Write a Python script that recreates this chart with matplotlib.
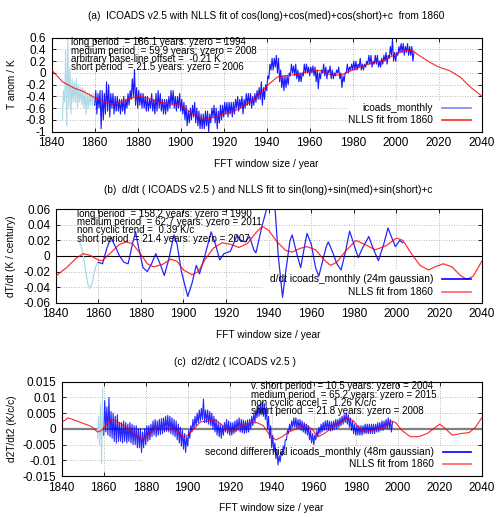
import numpy as np
import matplotlib
matplotlib.use('Agg')
import matplotlib.pyplot as plt
from matplotlib.patches import Rectangle

plt.rcParams['font.family'] = ['Liberation Sans', 'DejaVu Sans']
FS = 7.3
NFS = 7.0
TFS = 8.5

# ---------------- (a) monthly anomaly, yearly low / high envelope ----------------
a_light_years = np.arange(1845, 1860)
a_light_lo = [-0.8, -0.5, -0.9, -0.6, -0.7, -0.5, -0.5, -0.6, -0.5, -0.55, -0.6, -0.7, -0.6, -0.55, -0.55]
a_light_hi = [-0.3, 0.38, 0.58, 0.1, -0.1, -0.15, -0.1, -0.2, -0.25, -0.25, -0.3, -0.35, -0.35, -0.35, -0.35]

a_years = np.arange(1860, 2009)
a_lo = [-0.55, -0.7, -0.6, -0.95, -0.8, -0.7, -0.65, -0.75, -0.6, -0.7,
        -0.65, -0.65, -0.7, -0.65, -0.7, -0.6, -0.55, -0.45, -0.4, -0.55,
        -0.6, -0.55, -0.6, -0.6, -0.65, -0.65, -0.6, -0.65, -0.7, -0.65,
        -0.6, -0.65, -0.7, -0.7, -0.65, -0.6, -0.55, -0.6, -0.65, -0.6,
        -0.65, -0.7, -0.8, -0.9, -0.85, -0.8, -0.75, -0.85, -0.9, -0.95,
        -0.95, -0.95, -0.9, -1.0, -0.85, -0.75, -0.85, -0.95, -0.85, -0.8,
        -0.75, -0.7, -0.75, -0.7, -0.75, -0.7, -0.6, -0.65, -0.6, -0.7,
        -0.6, -0.55, -0.55, -0.6, -0.55, -0.5, -0.45, -0.45, -0.55, -0.45,
        -0.3, -0.1, 0.05, 0.05, 0.1, 0.0, -0.15, -0.25, -0.3, -0.25,
        -0.2, -0.05, 0.0, -0.05, -0.1, -0.15, -0.15, -0.05, 0.0, 0.0,
        -0.05, 0.0, -0.05, -0.15, -0.27, -0.1, 0.0, -0.05, -0.1, 0.0,
        -0.1, -0.1, -0.05, 0.0, -0.1, -0.25, -0.15, 0.0, 0.0, 0.05,
        0.05, 0.05, 0.05, 0.1, 0.05, 0.05, 0.1, 0.15, 0.15, 0.1,
        0.15, 0.15, 0.1, 0.1, 0.15, 0.2, 0.15, 0.25, 0.3, 0.2,
        0.2, 0.3, 0.35, 0.35, 0.3, 0.35, 0.3, 0.3, 0.2]
a_hi = [-0.3, -0.35, -0.3, -0.3, -0.35, -0.15, -0.2, -0.35, -0.35, -0.4,
        -0.4, -0.45, -0.45, -0.4, -0.45, -0.35, -0.3, -0.1, 0.06, -0.25,
        -0.3, -0.35, -0.35, -0.4, -0.4, -0.45, -0.35, -0.45, -0.35, -0.3,
        -0.35, -0.45, -0.45, -0.45, -0.4, -0.3, -0.3, -0.4, -0.4, -0.35,
        -0.45, -0.5, -0.55, -0.65, -0.6, -0.55, -0.5, -0.6, -0.65, -0.7,
        -0.7, -0.65, -0.65, -0.7, -0.6, -0.55, -0.6, -0.65, -0.55, -0.55,
        -0.5, -0.5, -0.5, -0.5, -0.5, -0.45, -0.4, -0.45, -0.4, -0.45,
        -0.35, -0.35, -0.35, -0.4, -0.35, -0.3, -0.25, -0.15, -0.25, -0.2,
        -0.05, 0.15, 0.25, 0.25, 0.3, 0.25, 0.05, -0.05, -0.05, -0.05,
        0.0, 0.15, 0.12, 0.15, 0.05, 0.0, 0.0, 0.15, 0.15, 0.1,
        0.1, 0.12, 0.1, 0.05, 0.0, 0.05, 0.15, 0.1, 0.05, 0.12,
        0.05, 0.0, 0.05, 0.1, 0.0, -0.05, 0.0, 0.15, 0.1, 0.15,
        0.2, 0.2, 0.15, 0.25, 0.15, 0.15, 0.2, 0.3, 0.3, 0.2,
        0.3, 0.3, 0.2, 0.25, 0.3, 0.35, 0.3, 0.45, 0.58, 0.35,
        0.35, 0.45, 0.5, 0.5, 0.45, 0.5, 0.45, 0.45, 0.35]

a_fit_years = [1840, 1845, 1850, 1855, 1860, 1865, 1868, 1870, 1875, 1880, 1885, 1890, 1895, 1900,
               1905, 1910, 1912, 1915, 1920, 1925, 1930, 1935, 1940, 1945, 1950, 1955, 1960, 1965,
               1970, 1975, 1980, 1985, 1990, 1995, 2000, 2005, 2008, 2010, 2015, 2020, 2025, 2030,
               2035, 2040]
a_fit = [0.05, -0.15, -0.25, -0.32, -0.42, -0.5, -0.53, -0.52, -0.45, -0.4, -0.43, -0.5, -0.52, -0.55,
         -0.68, -0.78, -0.79, -0.76, -0.7, -0.65, -0.55, -0.42, -0.22, -0.07, -0.04, -0.02, 0.03, 0.04,
         -0.04, -0.03, 0.05, 0.12, 0.18, 0.22, 0.32, 0.39, 0.38, 0.32, 0.2, 0.1, 0.04, -0.07,
         -0.25, -0.39]

a_ticks = [-1, -0.8, -0.6, -0.4, -0.2, 0, 0.2, 0.4, 0.6]
a_ticklabels = ['-1', '-0.8', '-0.6', '-0.4', '-0.2', '0', '0.2', '0.4', '0.6']

a_notes = ['long period  = 186.1 years: yzero = 1994',
           'medium period  = 59.9 years: yzero = 2008',
           'arbitrary base-line offset =  -0.21 K',
           'short period  = 21.5 years: yzero = 2006']

# ---------------- (b) first derivative ----------------
b_light_years = [1851, 1852, 1853, 1854, 1855, 1856, 1857, 1858, 1859, 1860]
b_light = [0.02, 0.012, 0.0, -0.018, -0.035, -0.042, -0.036, -0.022, -0.012, -0.008]

b_years = [1860, 1862, 1864, 1866, 1868, 1870, 1872, 1874, 1876, 1877.5, 1879, 1881, 1883, 1885,
           1887, 1889, 1891, 1893, 1895.5, 1897, 1899, 1902, 1904, 1906, 1907.5, 1910, 1913, 1915,
           1917, 1919, 1922, 1925, 1927, 1929, 1931, 1933, 1934, 1937, 1940, 1942, 1943, 1944.5,
           1946.5, 1948, 1950, 1951, 1953, 1955, 1957, 1958, 1960, 1962, 1963.5, 1965, 1967, 1968,
           1970, 1972, 1974, 1976, 1978, 1980, 1982, 1984, 1987, 1989, 1991.5, 1994, 1996, 1998,
           1999.5, 2001.5, 2003]
b_vals = [-0.008, -0.01, 0.01, 0.024, 0.012, 0.0, -0.008, -0.01, 0.015, 0.031, 0.01, -0.015, -0.02, -0.01,
          0.003, -0.01, -0.025, -0.005, 0.027, 0.015, -0.02, -0.052, -0.035, -0.012, -0.023, 0.0, 0.031, 0.015,
          -0.005, 0.003, 0.006, 0.026, 0.02, 0.018, 0.025, 0.008, 0.004, 0.04, 0.07, 0.08, 0.06, 0.0,
          -0.053, -0.02, 0.02, 0.027, 0.005, -0.015, 0.015, 0.029, 0.015, -0.015, -0.026, -0.01, 0.012, 0.018,
          0.005, -0.01, -0.018, 0.005, 0.032, 0.015, -0.002, 0.01, 0.025, 0.01, -0.006, 0.015, 0.036, 0.022,
          0.012, 0.02, 0.017]

b_fit_years = [1840, 1845, 1850, 1853, 1856, 1860, 1862, 1865, 1870, 1873, 1876, 1880, 1883, 1886,
               1890, 1894, 1897, 1900, 1904, 1907, 1910, 1914, 1918, 1922, 1926, 1930, 1934, 1937,
               1940, 1944, 1948, 1951, 1955, 1958, 1962, 1966, 1969, 1972, 1976, 1981, 1985, 1990,
               1995, 2000, 2003, 2007, 2011, 2015, 2018, 2022, 2026, 2030, 2033, 2036, 2040]
b_fit = [-0.026, -0.015, -0.002, 0.003, 0.001, -0.005, -0.006, 0.002, 0.015, 0.018, 0.016, 0.002, -0.01, -0.014,
         -0.011, -0.004, -0.007, -0.018, -0.024, -0.02, -0.005, 0.01, 0.017, 0.015, 0.011, 0.016, 0.03, 0.038,
         0.033, 0.018, 0.007, 0.005, 0.01, 0.012, 0.008, -0.005, -0.012, -0.008, 0.006, 0.02, 0.015, 0.008,
         0.013, 0.023, 0.02, 0.003, -0.012, -0.018, -0.014, -0.01, -0.014, -0.025, -0.03, -0.026, -0.007]

b_ticks = [-0.06, -0.04, -0.02, 0, 0.02, 0.04, 0.06]
b_ticklabels = ['-0.06', '-0.04', '-0.02', '0', '0.02', '0.04', '0.06']

b_notes = ['long period  = 158.2 years: yzero = 1990',
           'medium period  = 62.7 years: yzero = 2011',
           'non cyclic trend =  0.39 K/c',
           'short period  = 21.4 years: yzero = 2007']

# ---------------- (c) second derivative, yearly low / high envelope ----------------
c_light_years = [1857, 1858, 1859]
c_light_lo = [-0.003, -0.005, -0.011]
c_light_hi = [0.004, 0.008, 0.013]

c_years = np.arange(1860, 1998)
c_hi = [0.009, 0.007, 0.01, 0.0055, 0.005, 0.004, 0.0045, 0.002, 0.002, 0.0025,
        0.002, 0.0015, 0.002, 0.0015, 0.001, 0.001, 0.0, 0.0, -0.001, 0.0,
        0.001, 0.001, 0.0015, 0.0025, 0.003, 0.0025, 0.003, 0.0033, 0.0035, 0.004,
        0.0043, 0.004, 0.0035, 0.003, 0.0025, 0.0015, 0.0005, -0.0005, -0.0015, -0.0025,
        -0.0005, 0.001, 0.003, 0.004, 0.005, 0.006, 0.0065, 0.0095, 0.006, 0.006,
        0.0055, 0.005, 0.004, 0.003, 0.002, 0.0015, 0.001, 0.002, 0.003, 0.0025,
        0.002, 0.002, 0.0025, 0.003, 0.0035, 0.003, 0.0028, 0.0025, 0.0028, 0.003,
        0.004, 0.005, 0.006, 0.0075, 0.008, 0.0085, 0.008, 0.007, 0.004, 0.001,
        -0.002, -0.0045, -0.0065, -0.0085, -0.0075, -0.0055, -0.0035, -0.0005, 0.0015, 0.0025,
        0.0035, 0.0035, 0.003, 0.003, 0.0025, 0.002, 0.0015, 0.001, -0.0005, -0.0015,
        -0.002, -0.0005, 0.0005, 0.0015, 0.002, 0.0025, 0.0027, 0.0025, 0.0023, 0.0025,
        0.003, 0.003, 0.0035, 0.004, 0.0045, 0.005, 0.0045, 0.0035, 0.0025, 0.0015,
        0.001, 0.001, 0.001, 0.001, 0.0015, 0.0015, 0.0015, 0.0015, 0.0015, 0.0015,
        0.002, 0.002, 0.0025, 0.0025, 0.003, 0.0035, 0.003, 0.002]
c_lo = [-0.002, -0.001, -0.002, -0.0025, -0.003, -0.004, -0.0045, -0.004, -0.004, -0.0045,
        -0.004, -0.0045, -0.004, -0.0045, -0.005, -0.005, -0.006, -0.006, -0.0075, -0.006,
        -0.005, -0.004, -0.0035, -0.0025, -0.002, -0.0025, -0.002, -0.0018, -0.0015, -0.001,
        -0.0008, -0.001, -0.0015, -0.002, -0.0025, -0.0035, -0.0045, -0.0055, -0.0065, -0.0075,
        -0.0055, -0.003, -0.001, 0.0, 0.001, 0.002, 0.0025, 0.003, 0.002, 0.002,
        0.0015, 0.001, 0.0, -0.001, -0.002, -0.0025, -0.003, -0.002, -0.001, -0.0015,
        -0.002, -0.002, -0.0015, -0.001, -0.0005, -0.001, -0.0012, -0.0015, -0.0012, -0.001,
        0.0, 0.001, 0.002, 0.0035, 0.004, 0.0045, 0.004, 0.003, 0.0, -0.003,
        -0.006, -0.0075, -0.0095, -0.0115, -0.0105, -0.0085, -0.0065, -0.0035, -0.0015, -0.0005,
        0.0005, 0.0005, 0.0, 0.0, -0.0005, -0.001, -0.0015, -0.002, -0.0035, -0.0045,
        -0.005, -0.0035, -0.0025, -0.0015, -0.001, -0.0005, -0.0003, -0.0005, -0.0007, -0.0005,
        0.0, 0.0, 0.0005, 0.001, 0.0015, 0.002, 0.0015, 0.0005, -0.0005, -0.0015,
        -0.002, -0.002, -0.002, -0.002, -0.0015, -0.0015, -0.0015, -0.0015, -0.0015, -0.0015,
        -0.001, -0.001, -0.0005, -0.0005, 0.0, 0.0, 0.0, -0.001]

c_fit_years = [1840, 1843, 1846, 1850, 1854, 1857, 1859, 1862, 1864, 1866, 1870, 1874, 1878, 1881,
               1885, 1890, 1894, 1898, 1900, 1903, 1906, 1910, 1913, 1916, 1919, 1921, 1924, 1927,
               1930, 1933, 1936, 1939, 1942, 1945, 1948, 1950, 1953, 1956, 1959, 1962, 1965, 1968,
               1972, 1976, 1979, 1982, 1985, 1988, 1991, 1994, 1997, 1999, 2002, 2006, 2010, 2014,
               2017, 2020, 2022, 2026, 2030, 2034, 2037, 2040]
c_fit = [0.002, 0.0035, 0.0028, 0.0018, 0.0008, -0.001, -0.0005, 0.002, 0.003, 0.0025, 0.0008, -0.001, -0.0035, -0.002,
         0.0003, 0.0005, -0.0003, -0.0025, -0.002, 0.0, 0.0022, 0.0025, 0.003, 0.0015, -0.0005, -0.001, 0.0, 0.0015,
         0.0018, 0.002, 0.001, -0.002, -0.0035, -0.0025, -0.001, -0.0005, 0.0005, 0.0013, 0.0, -0.0025, -0.0015, 0.0,
         0.0015, 0.0035, 0.0025, 0.0, -0.001, -0.0005, 0.0, 0.0005, 0.0025, 0.002, -0.0005, -0.0025, -0.0025, -0.0015,
         0.0, 0.0015, 0.0005, -0.002, -0.0015, -0.0012, 0.0005, 0.0035]

c_ticks = [-0.015, -0.01, -0.005, 0, 0.005, 0.01, 0.015]
c_ticklabels = ['-0.015', '-0.01', '-0.005', '0', '0.005', '0.01', '0.015']

c_notes = ['v. short period  = 10.5 years: yzero = 2004',
           'medium period  = 65.2 years: yzero = 2015',
           'non cyclic accel =  1.26 K/c/c',
           'short period  = 21.8 years: yzero = 2008']


def zigzag(years, lo, hi):
    t = np.column_stack((years, np.asarray(years) + 0.5)).ravel()
    v = np.column_stack((lo, hi)).ravel()
    return t, v


def frame(ax, ticks, labels):
    ax.set_xlim(1840, 2040)
    ax.set_ylim(ticks[0], ticks[-1])
    ax.set_xticks(np.arange(1840, 2041, 20))
    ax.set_yticks(ticks)
    ax.set_yticklabels(labels)
    ax.tick_params(direction='in', top=True, right=True, labelsize=TFS, length=3, width=0.6, pad=4)
    ax.grid(True, color='#a0a0a0', linestyle=(0, (1, 2)), linewidth=0.6)
    ax.set_axisbelow(True)
    for s in ax.spines.values():
        s.set_linewidth(0.8)
    ax.set_xlabel('FFT window size / year', fontsize=FS, labelpad=7)


def key(ax, box, labels, colors, alphas, ys):
    ax.add_patch(Rectangle((box[0], 0), 1 - box[0], box[1], transform=ax.transAxes,
                           facecolor='white', edgecolor='none', zorder=1.5))
    for lab, c, al, y in zip(labels, colors, alphas, ys):
        ax.text(0.886, y, lab, transform=ax.transAxes, ha='right', va='center', fontsize=FS, zorder=5)
        ax.plot([0.907, 0.974], [y, y], transform=ax.transAxes, color=c, alpha=al, lw=1.2, zorder=5)


def notes(ax, x, y0, lines):
    for i, s in enumerate(lines):
        ax.text(x, y0 - i * 0.088, s, transform=ax.transAxes, fontsize=NFS, va='center', zorder=5)


fig = plt.figure(figsize=(5.0, 5.17), dpi=100)

# (a)
ax1 = fig.add_axes([0.1034, 0.7453, 0.86, 0.1818])
frame(ax1, a_ticks, a_ticklabels)
t, v = zigzag(a_light_years, a_light_lo, a_light_hi)
ax1.plot(t, v, color='#add8e6', lw=0.8, zorder=2)
t, v = zigzag(a_years, a_lo, a_hi)
ax1.plot(t, v, color='#0000ff', lw=0.8, alpha=0.9, zorder=2)
ax1.plot(a_fit_years, a_fit, color='#ff0000', lw=0.8, alpha=0.85, zorder=3)
key(ax1, (0.69, 0.33), ['icoads_monthly', 'NLLS fit from 1860'],
    ['#8080ff', '#ff0000'], [1, 0.85], [0.255, 0.128])
notes(ax1, 0.045, 0.95, a_notes)
ax1.set_ylabel('T anom / K', fontsize=FS, labelpad=6)
fig.text(0.532, 0.969, '(a)  ICOADS v2.5 with NLLS fit of cos(long)+cos(med)+cos(short)+c  from 1860',
         ha='center', va='center', fontsize=FS)

# (b)
ax2 = fig.add_axes([0.1114, 0.4145, 0.852, 0.1807])
frame(ax2, b_ticks, b_ticklabels)
ax2.axhline(0, color='black', lw=0.8, zorder=2)
ax2.plot(b_light_years, b_light, color='#add8e6', lw=0.9, zorder=2)
ax2.plot(b_years, b_vals, color='#0000ff', lw=0.9, alpha=0.85, zorder=2)
ax2.plot(b_fit_years, b_fit, color='#ff0000', lw=0.9, alpha=0.8, zorder=3)
key(ax2, (0.49, 0.35), ['d/dt icoads_monthly (24m gaussian)', 'NLLS fit from 1860'],
    ['#0000ff', '#ff6060'], [1, 1], [0.25, 0.11])
notes(ax2, 0.05, 0.95, b_notes)
ax2.set_ylabel('dT/dt (K / century)', fontsize=FS, labelpad=5)
fig.text(0.536, 0.6325, '(b)  d/dt ( ICOADS v2.5 ) and NLLS fit to sin(long)+sin(med)+sin(short)+c',
         ha='center', va='center', fontsize=FS)

# (c)
ax3 = fig.add_axes([0.1234, 0.0793, 0.84, 0.1824])
frame(ax3, c_ticks, c_ticklabels)
ax3.axhline(0, color='#808080', lw=1.6, zorder=2)
t, v = zigzag(c_light_years, c_light_lo, c_light_hi)
ax3.plot(t, v, color='#add8e6', lw=0.8, zorder=2)
t, v = zigzag(c_years, c_lo, c_hi)
ax3.plot(t, v, color='#0000ff', lw=0.8, alpha=0.85, zorder=2)
ax3.plot(c_fit_years, c_fit, color='#ff0000', lw=0.8, alpha=0.85, zorder=3)
key(ax3, (0.193, 0.32), ['second differential icoads_monthly (48m gaussian)', 'NLLS fit from 1860'],
    ['#0000ff', '#ff6060'], [1, 1], [0.25, 0.127])
notes(ax3, 0.45, 0.95, c_notes)
ax3.set_ylabel('d2T/dt2 (K/c/c)', fontsize=FS, labelpad=4)
fig.text(0.47, 0.2998, '(c)  d2/dt2 ( ICOADS v2.5 )', ha='center', va='center', fontsize=FS)

fig.savefig('out.png', dpi=100)
